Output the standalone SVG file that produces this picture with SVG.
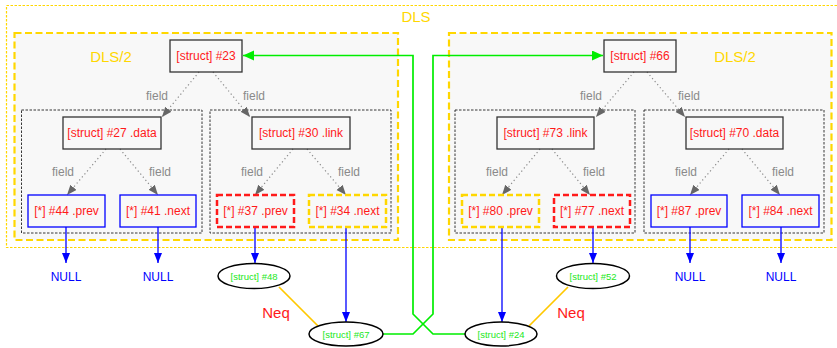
<svg xmlns="http://www.w3.org/2000/svg" width="837" height="348" viewBox="0 0 837 348">
<style>
text{font-family:"Liberation Sans",Arial,sans-serif;text-anchor:middle}
.lbl{font-size:12px;fill:#ff1a1a}
.fld{font-size:12px;fill:#8a8a8a}
.null{font-size:12px;fill:#0000ff}
.ell{font-size:9.5px;fill:#22e822}
.neq{font-size:15px;fill:#ff1a1a}
.ttl{font-size:15px;fill:#ffd700}
.snode{fill:none;stroke:#333;stroke-width:1.3}
.bnode{fill:none;stroke:#0000ff;stroke-width:1.3}
.rnode{fill:none;stroke:#ff1a1a;stroke-width:2.5;stroke-dasharray:6,3}
.ynode{fill:none;stroke:#ffd700;stroke-width:2.5;stroke-dasharray:6,3}
.half{fill:#f8f8f8;stroke:#ffd700;stroke-width:2.2;stroke-dasharray:7,3.5}
.sub{fill:#f8f8f8;stroke:#222;stroke-width:0.9;stroke-dasharray:2.5,1.5}
.fe{stroke:#8a8a8a;stroke-width:1.2;stroke-dasharray:1.2,2.8;fill:none}
.be{stroke:#0000ff;stroke-width:1.3;fill:none}
.ge{stroke:#00ee00;stroke-width:1.7;fill:none}
.ne{stroke:#ffc800;stroke-width:1.7;fill:none}
ellipse{fill:none;stroke:#000;stroke-width:1.5}
</style>
<defs>
<marker id="ag" markerUnits="userSpaceOnUse" markerWidth="12" markerHeight="10" refX="10" refY="4" orient="auto"><path d="M0,0 L10,4 L0,8 z" fill="#666"/></marker>
<marker id="ab" markerUnits="userSpaceOnUse" markerWidth="12" markerHeight="10" refX="10" refY="4" orient="auto"><path d="M0,0 L10,4 L0,8 z" fill="#0000ff"/></marker>
<marker id="agr" markerUnits="userSpaceOnUse" markerWidth="13" markerHeight="12" refX="11" refY="5" orient="auto"><path d="M0,0 L11,5 L0,10 z" fill="#00ee00"/></marker>
</defs>

<g id="dls">
<rect x="6.5" y="5.5" width="840" height="242" fill="#fff" stroke="#ffd700" stroke-width="1.2" stroke-dasharray="2.5,1.5"/>
<text class="ttl" x="416" y="22">DLS</text>
</g>
<g id="dls2-left">
<rect class="half" x="14.5" y="33" width="383.5" height="207"/>
<text class="ttl" x="111" y="62">DLS/2</text>
</g>
<g id="dls2-right">
<rect class="half" x="449" y="33" width="382.5" height="207"/>
<text class="ttl" x="735" y="62">DLS/2</text>
</g>
<g id="sub-27"><rect class="sub" x="21.5" y="110" width="180.5" height="123"/></g>
<g id="sub-30"><rect class="sub" x="210" y="110" width="181" height="123"/></g>
<g id="sub-73"><rect class="sub" x="455" y="110" width="180" height="123"/></g>
<g id="sub-70"><rect class="sub" x="644" y="110" width="180" height="123"/></g>

<g id="connectors">
<line class="fe" x1="199" y1="72" x2="162" y2="117" marker-end="url(#ag)"/>
<line class="fe" x1="213" y1="72" x2="250" y2="117" marker-end="url(#ag)"/>
<line class="fe" x1="634" y1="72" x2="596" y2="117" marker-end="url(#ag)"/>
<line class="fe" x1="647" y1="72" x2="685" y2="117" marker-end="url(#ag)"/>
<line class="fe" x1="106" y1="149" x2="67" y2="195" marker-end="url(#ag)"/>
<line class="fe" x1="120" y1="149" x2="158" y2="195" marker-end="url(#ag)"/>
<line class="fe" x1="293" y1="149" x2="255" y2="195" marker-end="url(#ag)"/>
<line class="fe" x1="307" y1="149" x2="346" y2="195" marker-end="url(#ag)"/>
<line class="fe" x1="540" y1="149" x2="502" y2="195" marker-end="url(#ag)"/>
<line class="fe" x1="552" y1="149" x2="590" y2="195" marker-end="url(#ag)"/>
<line class="fe" x1="729" y1="149" x2="690" y2="195" marker-end="url(#ag)"/>
<line class="fe" x1="742" y1="149" x2="780" y2="195" marker-end="url(#ag)"/>
<text class="fld" x="157" y="100">field</text>
<text class="fld" x="254" y="100">field</text>
<text class="fld" x="591" y="100">field</text>
<text class="fld" x="689" y="100">field</text>
<text class="fld" x="63" y="176">field</text>
<text class="fld" x="160" y="176">field</text>
<text class="fld" x="252" y="176">field</text>
<text class="fld" x="349" y="176">field</text>
<text class="fld" x="497" y="176">field</text>
<text class="fld" x="594" y="176">field</text>
<text class="fld" x="686" y="176">field</text>
<text class="fld" x="783" y="176">field</text>
<line class="be" x1="66" y1="227" x2="66" y2="263" marker-end="url(#ab)"/>
<line class="be" x1="158" y1="227" x2="158" y2="263" marker-end="url(#ab)"/>
<line class="be" x1="255" y1="227" x2="255" y2="263" marker-end="url(#ab)"/>
<line class="be" x1="346" y1="227" x2="346" y2="322" marker-end="url(#ab)"/>
<line class="be" x1="502" y1="227" x2="502" y2="322" marker-end="url(#ab)"/>
<line class="be" x1="593" y1="227" x2="593" y2="263" marker-end="url(#ab)"/>
<line class="be" x1="690" y1="227" x2="690" y2="263" marker-end="url(#ab)"/>
<line class="be" x1="781" y1="227" x2="781" y2="263" marker-end="url(#ab)"/>
<line class="ne" x1="279" y1="287" x2="318" y2="326"/>
<line class="ne" x1="568" y1="287" x2="529" y2="326"/>
<text class="neq" x="276" y="318">Neq</text>
<text class="neq" x="571" y="318">Neq</text>
<path class="ge" d="M383,334 H413 L433,314 V55.5 H603" marker-end="url(#agr)"/>
<path class="ge" d="M465,334 H433 L413,314 V55.5 H243" marker-end="url(#agr)"/>
</g>

<g id="n23"><rect class="snode" x="170" y="40" width="72" height="32"/><text class="lbl" x="206" y="60">[struct] #23</text></g>
<g id="n66"><rect class="snode" x="604" y="40" width="72" height="32"/><text class="lbl" x="640" y="60">[struct] #66</text></g>
<g id="n27"><rect class="snode" x="63" y="117" width="98" height="32"/><text class="lbl" x="112" y="137">[struct] #27 .data</text></g>
<g id="n30"><rect class="snode" x="252" y="117" width="98" height="32"/><text class="lbl" x="301" y="137">[struct] #30 .link</text></g>
<g id="n73"><rect class="snode" x="497" y="117" width="97" height="32"/><text class="lbl" x="545.5" y="137">[struct] #73 .link</text></g>
<g id="n70"><rect class="snode" x="686" y="117" width="97" height="32"/><text class="lbl" x="734.5" y="137">[struct] #70 .data</text></g>

<g id="n44"><rect class="bnode" x="28" y="195" width="77" height="32"/><text class="lbl" x="66.5" y="215">[*] #44 .prev</text></g>
<g id="n41"><rect class="bnode" x="120" y="195" width="76" height="32"/><text class="lbl" x="158" y="215">[*] #41 .next</text></g>
<g id="n37"><rect class="rnode" x="217" y="195" width="77" height="32"/><text class="lbl" x="255.5" y="215">[*] #37 .prev</text></g>
<g id="n34"><rect class="ynode" x="309" y="195" width="77" height="32"/><text class="lbl" x="347.5" y="215">[*] #34 .next</text></g>
<g id="n80"><rect class="ynode" x="462" y="195" width="77" height="32"/><text class="lbl" x="500.5" y="215">[*] #80 .prev</text></g>
<g id="n77"><rect class="rnode" x="554" y="195" width="76" height="32"/><text class="lbl" x="592" y="215">[*] #77 .next</text></g>
<g id="n87"><rect class="bnode" x="651" y="195" width="76" height="32"/><text class="lbl" x="689" y="215">[*] #87 .prev</text></g>
<g id="n84"><rect class="bnode" x="742" y="195" width="77" height="32"/><text class="lbl" x="780.5" y="215">[*] #84 .next</text></g>

<g id="null1"><text class="null" x="66" y="281">NULL</text></g>
<g id="null2"><text class="null" x="158" y="281">NULL</text></g>
<g id="null3"><text class="null" x="690" y="281">NULL</text></g>
<g id="null4"><text class="null" x="781" y="281">NULL</text></g>

<g id="n48"><ellipse cx="254" cy="276" rx="36" ry="12.5"/><text class="ell" x="254" y="279.5">[struct] #48</text></g>
<g id="n67"><ellipse cx="346" cy="334" rx="37" ry="12"/><text class="ell" x="346" y="337.5">[struct] #67</text></g>
<g id="n24"><ellipse cx="501" cy="334" rx="36" ry="12"/><text class="ell" x="501" y="337.5">[struct] #24</text></g>
<g id="n52"><ellipse cx="593" cy="276" rx="36.5" ry="12.5"/><text class="ell" x="593" y="279.5">[struct] #52</text></g>
</svg>
